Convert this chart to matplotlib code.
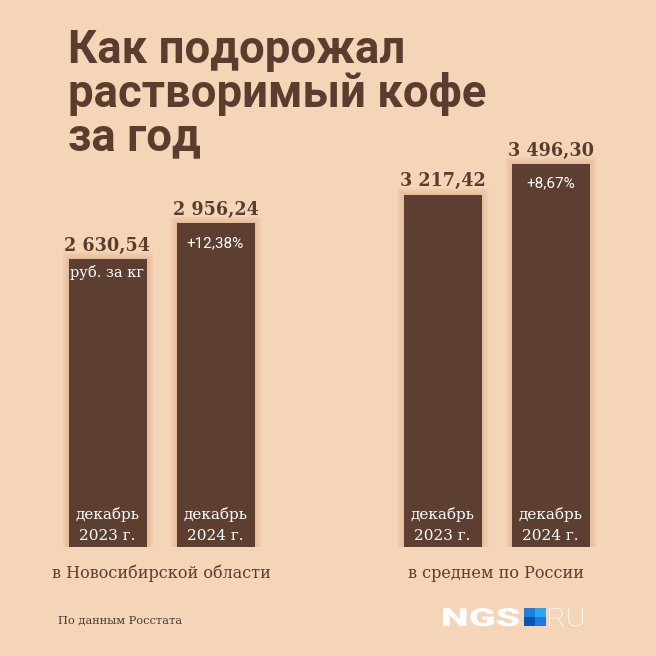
import numpy as np
import matplotlib.pyplot as plt
from matplotlib.patches import Rectangle, PathPatch
from matplotlib.textpath import TextPath
from matplotlib.font_manager import FontProperties
from matplotlib.transforms import Affine2D

# данные
regions = ["в Новосибирской области", "в среднем по России"]
periods = ["декабрь\n2023 г.", "декабрь\n2024 г."]
prices = [2630.54, 2956.24, 3217.42, 3496.30]
price_labels = ["2 630,54", "2 956,24", "3 217,42", "3 496,30"]
inner_labels = ["руб. за кг", "+12,38%", "", "+8,67%"]
title_lines = ["Как подорожал", "растворимый кофе", "за год"]
source = "По данным Росстата"

# оформление
W = H = 656
BG = "#f5d5b8"
BAR = "#5c3f30"
TXT = "#5a3d2e"
bar_x = [107.5, 215.5, 442.5, 550.5]
bar_w = 78
zero_px = 547
px_per_unit = 0.1095
y_top = 4000

fig = plt.figure(figsize=(W / 100, H / 100), dpi=100, facecolor=BG)


def fx(x):
    return x / W


def fy(y):
    return 1 - y / H


# слой в пикселях для логотипа
ov = fig.add_axes([0, 0, 1, 1])
ov.set_xlim(0, W)
ov.set_ylim(0, H)
ov.axis("off")

ax_h = y_top * px_per_unit
ax = fig.add_axes([0, fy(zero_px), 1, ax_h / H])
ax.set_xlim(0, W)
ax.set_ylim(0, y_top)
ax.axis("off")
ax.set_facecolor("none")

# мягкая тень вокруг столбцов
for k in range(1, 8):
    for x, v in zip(bar_x, prices):
        ax.add_patch(Rectangle((x - bar_w / 2 - k, -k / px_per_unit),
                               bar_w + 2 * k, v + 2 * k / px_per_unit,
                               color="#c9774a", alpha=0.035, lw=0, zorder=1))

ax.bar(bar_x, prices, width=bar_w, color=BAR, zorder=2)

serif = ["DejaVu Serif"]
for i, (x, v) in enumerate(zip(bar_x, prices)):
    ax.annotate(price_labels[i], (x, v), xytext=(0, 6), textcoords="offset points",
                ha="center", va="baseline", fontsize=14, fontweight="bold",
                family=serif, fontstretch="condensed", color=TXT, zorder=3)
    if inner_labels[i]:
        if i == 0:
            ax.annotate(inner_labels[i], (x, v), xytext=(0, -13), textcoords="offset points",
                        ha="center", va="baseline", fontsize=10.5, family=serif,
                        color="white", zorder=3)
        else:
            ax.annotate(inner_labels[i], (x, v), xytext=(0, -17), textcoords="offset points",
                        ha="center", va="baseline", fontsize=11, family="Roboto",
                        color="white", zorder=3)
    line1, line2 = periods[i % 2].split("\n")
    ax.annotate(line1, (x, 0), xytext=(0, 20), textcoords="offset points",
                ha="center", va="baseline", fontsize=11, family=serif,
                color="white", zorder=3)
    ax.annotate(line2, (x, 0), xytext=(0, 5), textcoords="offset points",
                ha="center", va="baseline", fontsize=11, family=serif,
                color="white", zorder=3)

for g, name in enumerate(regions):
    cx = (bar_x[2 * g] + bar_x[2 * g + 1]) / 2
    ax.annotate(name, (cx, 0), xytext=(0, -22.5), textcoords="offset points",
                ha="center", va="baseline", fontsize=11.5, family=serif,
                color=TXT, zorder=3)

# заголовок
for y, line in zip([63, 107, 150], title_lines):
    fig.text(fx(68), fy(y), line, fontsize=32.8, fontweight="bold", family="Roboto",
             color=TXT, va="baseline", ha="left")

fig.text(fx(58), fy(623), source, fontsize=8.2, family=serif, color="#4a3b33",
         va="baseline", ha="left")


# логотип NGS.RU: растянутый текст по рамке
def fit_text(s, x0, x1, base, cap, weight):
    tp = TextPath((0, 0), s, size=100, prop=FontProperties(family="Roboto", weight=weight))
    ext = tp.get_extents()
    tr = (Affine2D().translate(-ext.x0, 0)
          .scale((x1 - x0) / ext.width, cap / ext.y1)
          .translate(x0, H - base))
    ov.add_patch(PathPatch(tr.transform_path(tp), color="white", lw=0))


fit_text("NGS", 443, 519, 626, 18, "black")
fit_text("RU", 549, 583, 626, 18, "light")
sq = [(524, 608, "#1c7fe0"), (535, 608, "#2aa6f0"), (524, 617, "#0c54ad"), (535, 617, "#1d79dc")]
for sx, sy, c in sq:
    ov.add_patch(Rectangle((sx, H - sy - 9), 11, 9, color=c, lw=0))

fig.savefig("out.png", dpi=100, facecolor=BG)
